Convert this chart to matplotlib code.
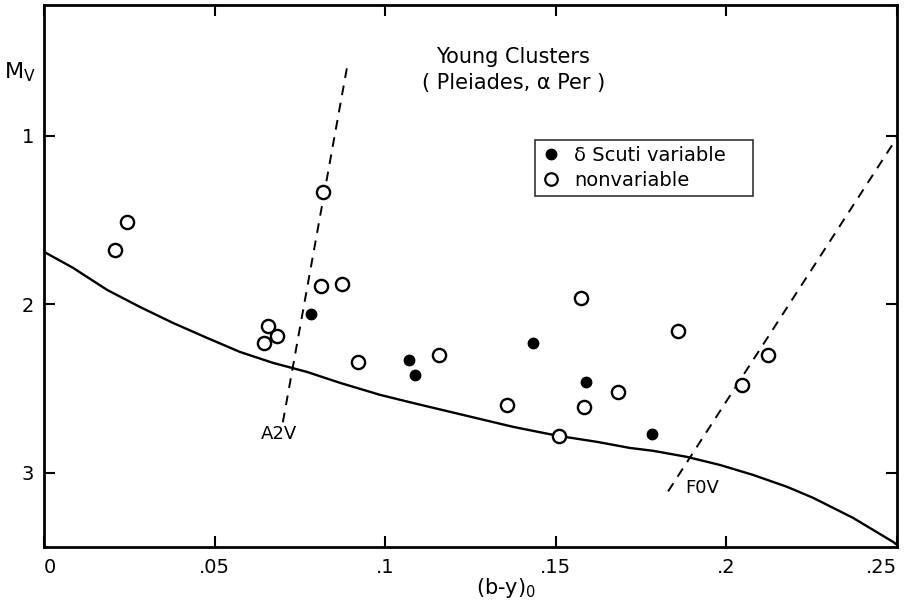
import matplotlib
matplotlib.use("Agg")
import matplotlib.pyplot as plt
from matplotlib.lines import Line2D

plt.rcParams['font.family'] = ['DejaVu Sans']
plt.rcParams['mathtext.default'] = 'regular'

# Data
open_x = [0.0208, 0.0243, 0.0818, 0.0812, 0.0873, 0.0656, 0.0683, 0.0645, 0.0920,
          0.1158, 0.1357, 0.1582, 0.1682, 0.1509, 0.1574, 0.1858, 0.2046, 0.2122]
open_mv = [1.68, 1.51, 1.33, 1.89, 1.88, 2.13, 2.19, 2.23, 2.34,
           2.30, 2.60, 2.61, 2.52, 2.78, 1.96, 2.16, 2.48, 2.30]

var_x = [0.0782, 0.1070, 0.1087, 0.1433, 0.1589, 0.1782]
var_mv = [2.06, 2.33, 2.42, 2.23, 2.46, 2.77]

zams_x = [0.0, 0.0085, 0.0185, 0.0281, 0.0378, 0.0478, 0.0574, 0.0671, 0.0771, 0.0868,
          0.0985, 0.1081, 0.1228, 0.1375, 0.1506, 0.1621, 0.1717, 0.1785, 0.1884, 0.1981,
          0.2078, 0.2178, 0.2254, 0.2371, 0.2488, 0.25]
zams_mv = [1.688, 1.783, 1.914, 2.015, 2.110, 2.199, 2.282, 2.347, 2.401, 2.466,
           2.537, 2.585, 2.656, 2.727, 2.780, 2.816, 2.852, 2.869, 2.905, 2.953,
           3.012, 3.083, 3.148, 3.267, 3.409, 3.427]

a2v_x = [0.0700, 0.0891]
a2v_mv = [2.70, 0.56]
f0v_x = [0.1829, 0.2500]
f0v_mv = [3.11, 1.01]

xticks = [0, 0.05, 0.1, 0.15, 0.2, 0.25]
xticklabels = ['0', '.05', '.1', '.15', '.2', '.25']
yticks = [1, 2, 3]
yticklabels = ['1', '2', '3']

fig = plt.figure(figsize=(9.05, 6.07), dpi=100)
ax = fig.add_axes([44/905, 1-547/607, 853/905, 542/607])

ax.plot(zams_x, zams_mv, color='black', lw=1.7, solid_joinstyle='round')
ax.plot(a2v_x, a2v_mv, color='black', lw=1.4, dashes=(5, 4))
ax.plot(f0v_x, f0v_mv, color='black', lw=1.4, dashes=(5, 4))

ax.plot(open_x, open_mv, 'o', ms=9.5, mfc='white', mec='black', mew=1.7, ls='none', zorder=3)
ax.plot(var_x, var_mv, 'o', ms=7.5, mfc='black', mec='black', ls='none', zorder=3)

ax.set_xlim(0, 0.25)
ax.set_ylim(3.44, 0.223)
ax.set_xticks(xticks)
ax.set_xticklabels(xticklabels, fontsize=14)
ax.set_yticks(yticks)
ax.set_yticklabels(yticklabels, fontsize=14)
ax.tick_params(direction='in', length=8, width=1.5, top=True, right=True, pad=8)
ax.tick_params(axis='y', pad=7)
lbls = ax.get_xticklabels()
lbls[0].set_ha('left')
lbls[-1].set_ha('right')
for s in ax.spines.values():
    s.set_linewidth(2)

ax.text(0.0689, 2.77, 'A2V', ha='center', va='center', fontsize=13)
ax.text(0.1928, 3.09, 'F0V', ha='center', va='center', fontsize=13)
ax.text(0.1375, 0.53, 'Young Clusters', ha='center', va='center', fontsize=15)
ax.text(0.1375, 0.685, '( Pleiades, α Per )', ha='center', va='center', fontsize=15)

handles = [Line2D([], [], marker='o', ls='none', ms=7.5, mfc='black', mec='black'),
           Line2D([], [], marker='o', ls='none', ms=9, mfc='white', mec='black', mew=1.6)]
x0 = (535 - 44) / 853
w = (753 - 535) / 853
y1 = (547 - 140) / 542
h = (197 - 140) / 542
leg = ax.legend(handles, ['δ Scuti variable', 'nonvariable'], loc='upper left',
                bbox_to_anchor=(x0, y1 - h, w, h), mode='expand', borderaxespad=0,
                fontsize=14, frameon=True, fancybox=False, edgecolor='black',
                handlelength=1.0, handletextpad=0.7, borderpad=0.3, labelspacing=0.3)
leg.get_frame().set_linewidth(1.2)

fig.text(20/905, 1-72/607, '$M_V$', ha='center', va='center', fontsize=16)
fig.text(506/905, 1-588/607, '(b-y)$_0$', ha='center', va='center', fontsize=15)

fig.savefig('out.png', dpi=100)
